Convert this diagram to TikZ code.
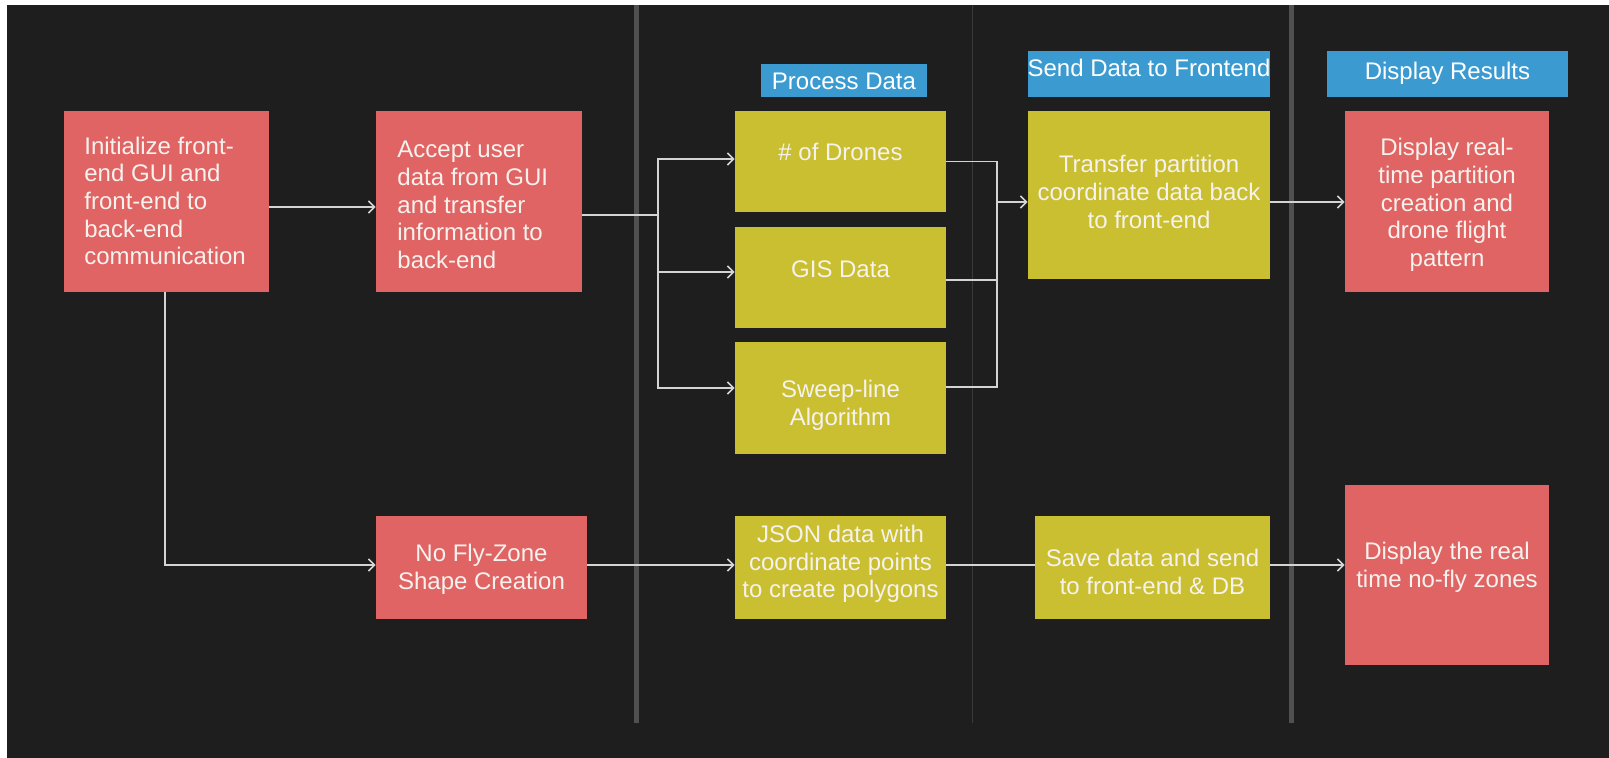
\documentclass[tikz,border=0pt]{standalone}
\usepackage{fontspec}
\setmainfont{Liberation Sans}
\usetikzlibrary{arrows.meta}
\definecolor{bg}{HTML}{1E1E1E}
\definecolor{boxred}{HTML}{E06464}
\definecolor{boxyel}{HTML}{C9BF30}
\definecolor{lblblue}{HTML}{3B9BD1}
\definecolor{sepgray}{HTML}{505050}
\definecolor{thingray}{HTML}{3A3A3A}
\definecolor{wire}{HTML}{D4D4D4}
\definecolor{txtc}{HTML}{F6F2EE}
\begin{document}
\begin{tikzpicture}[x=0.5pt,y=-0.5pt,
 box/.style={rectangle, inner sep=0pt, draw=none},
 redbox/.style={box, fill=boxred},
 yelbox/.style={box, fill=boxyel},
 lbl/.style={box, fill=lblblue},
 txt/.style={text=txtc, font=\fontsize{12}{13.85}\selectfont, inner sep=0pt, align=center},
 wireline/.style={draw=wire, line width=0.8pt},
 arr/.style={wireline, -{Straight Barb[length=3pt,width=6pt]}},
 sep/.style={draw=sepgray, line width=2.5pt},
 thinsep/.style={draw=thingray, line width=0.5pt},
]
\useasboundingbox (0,0) rectangle (1609,758);
\fill[white] (0,0) rectangle (1609,758);
\fill[bg] (7,5) rectangle (1609,758);
% lane separators
\coordinate (s1t) at (636,5);   \coordinate (s1b) at (636,723);
\coordinate (s2t) at (972,5);   \coordinate (s2b) at (972,723);
\coordinate (s3t) at (1291,5);  \coordinate (s3b) at (1291,723);
\draw[sep] (s1t) -- (s1b);
\draw[thinsep] (s2t) -- (s2b);
\draw[sep] (s3t) -- (s3b);

% boxes
\node[redbox, minimum width=102.5pt, minimum height=90.5pt] (b1) at (166.5,201.5) {};
\node[redbox, minimum width=103pt, minimum height=90.5pt] (b2) at (479,201.5) {};
\node[yelbox, minimum width=105.5pt, minimum height=50.5pt] (drones) at (840.5,161.5) {};
\node[yelbox, minimum width=105.5pt, minimum height=50.5pt] (gis) at (840.5,277.5) {};
\node[yelbox, minimum width=105.5pt, minimum height=56pt] (sweep) at (840.5,398) {};
\node[lbl, minimum width=83pt, minimum height=16.5pt] (lproc) at (844,80.5) {};
\node[yelbox, minimum width=121pt, minimum height=84pt] (transfer) at (1149,195) {};
\node[lbl, minimum width=121pt, minimum height=23pt] (lsend) at (1149,74) {};
\node[lbl, minimum width=120.5pt, minimum height=23pt] (ldisp) at (1447.5,74) {};
\node[redbox, minimum width=102pt, minimum height=90.5pt] (disp) at (1447,201.5) {};
\node[redbox, minimum width=105.5pt, minimum height=51.5pt] (nofly) at (481.5,567.5) {};
\node[yelbox, minimum width=105.5pt, minimum height=51.5pt] (json) at (840.5,567.5) {};
\node[yelbox, minimum width=117.5pt, minimum height=51.5pt] (save) at (1152.5,567.5) {};
\node[redbox, minimum width=102pt, minimum height=90pt] (dispnf) at (1447,575) {};

% texts
\node[txt, anchor=west, align=left] (t1) at (84,201) {Initialize front-\\end GUI and\\front-end to\\back-end\\communication};
\node[txt, anchor=west, align=left] (t2) at (397,205) {Accept user\\data from GUI\\and transfer\\information to\\back-end};
\node[txt] (tdr) at (840.5,152) {\# of Drones};
\node[txt] (tgis) at (840.5,269) {GIS Data};
\node[txt] (tsw) at (840.5,405) {Sweep-line\\Algorithm};
\node[txt, text=white] (tproc) at (844,81) {Process Data};
\node[txt] (ttr) at (1149,192) {Transfer partition\\coordinate data back\\to front-end};
\node[txt, text=white] (tsend) at (1149,68) {Send Data to Frontend};
\node[txt, text=white] (tdisp) at (1447.5,73) {Display Results};
\node[txt] (tdi) at (1447,205) {Display real-\\time partition\\creation and\\drone flight\\pattern};
\node[txt] (tnf) at (481.5,569) {No Fly-Zone\\Shape Creation};
\node[txt] (tjs) at (840.5,564) {JSON data with\\coordinate points\\to create polygons};
\node[txt] (tsv) at (1152.5,572) {Save data and send\\to front-end \& DB};
\node[txt] (tdn) at (1447,567) {Display the real\\time no-fly zones};

% connectors
\coordinate (j1) at (658,215);
\coordinate (j2) at (997,202);
\draw[arr] ([yshift=-2.75pt]b1.east) -- ([yshift=-2.75pt]b2.west);
\draw[wireline] ([yshift=-6.75pt]b2.east) -- (j1);
\draw[arr] (j1) |- ([yshift=1.25pt]drones.west);
\draw[arr] (j1) |- ([yshift=2.75pt]gis.west);
\draw[arr] (j1) |- ([yshift=5pt]sweep.west);
\draw[wireline] (drones.east) -| (j2);
\draw[wireline] ([yshift=-1.25pt]gis.east) -| (j2);
\draw[wireline] ([yshift=5.5pt]sweep.east) -| (j2);
\draw[arr] (j2) -- (j2 -| transfer.west);
\draw[arr] (j2 -| transfer.east) -- (j2 -| disp.west);
\draw[arr] ([xshift=-0.75pt]b1.south) |- ([yshift=1.25pt]nofly.west);
\draw[arr] ([yshift=1.25pt]nofly.east) -- ([yshift=1.25pt]json.west);
\draw[wireline] ([yshift=1.25pt]json.east) -- ([yshift=1.25pt]save.west);
\draw[arr] ([yshift=1.25pt]save.east) -- ([yshift=1.25pt]save.east -| dispnf.west);
\end{tikzpicture}
\end{document}
